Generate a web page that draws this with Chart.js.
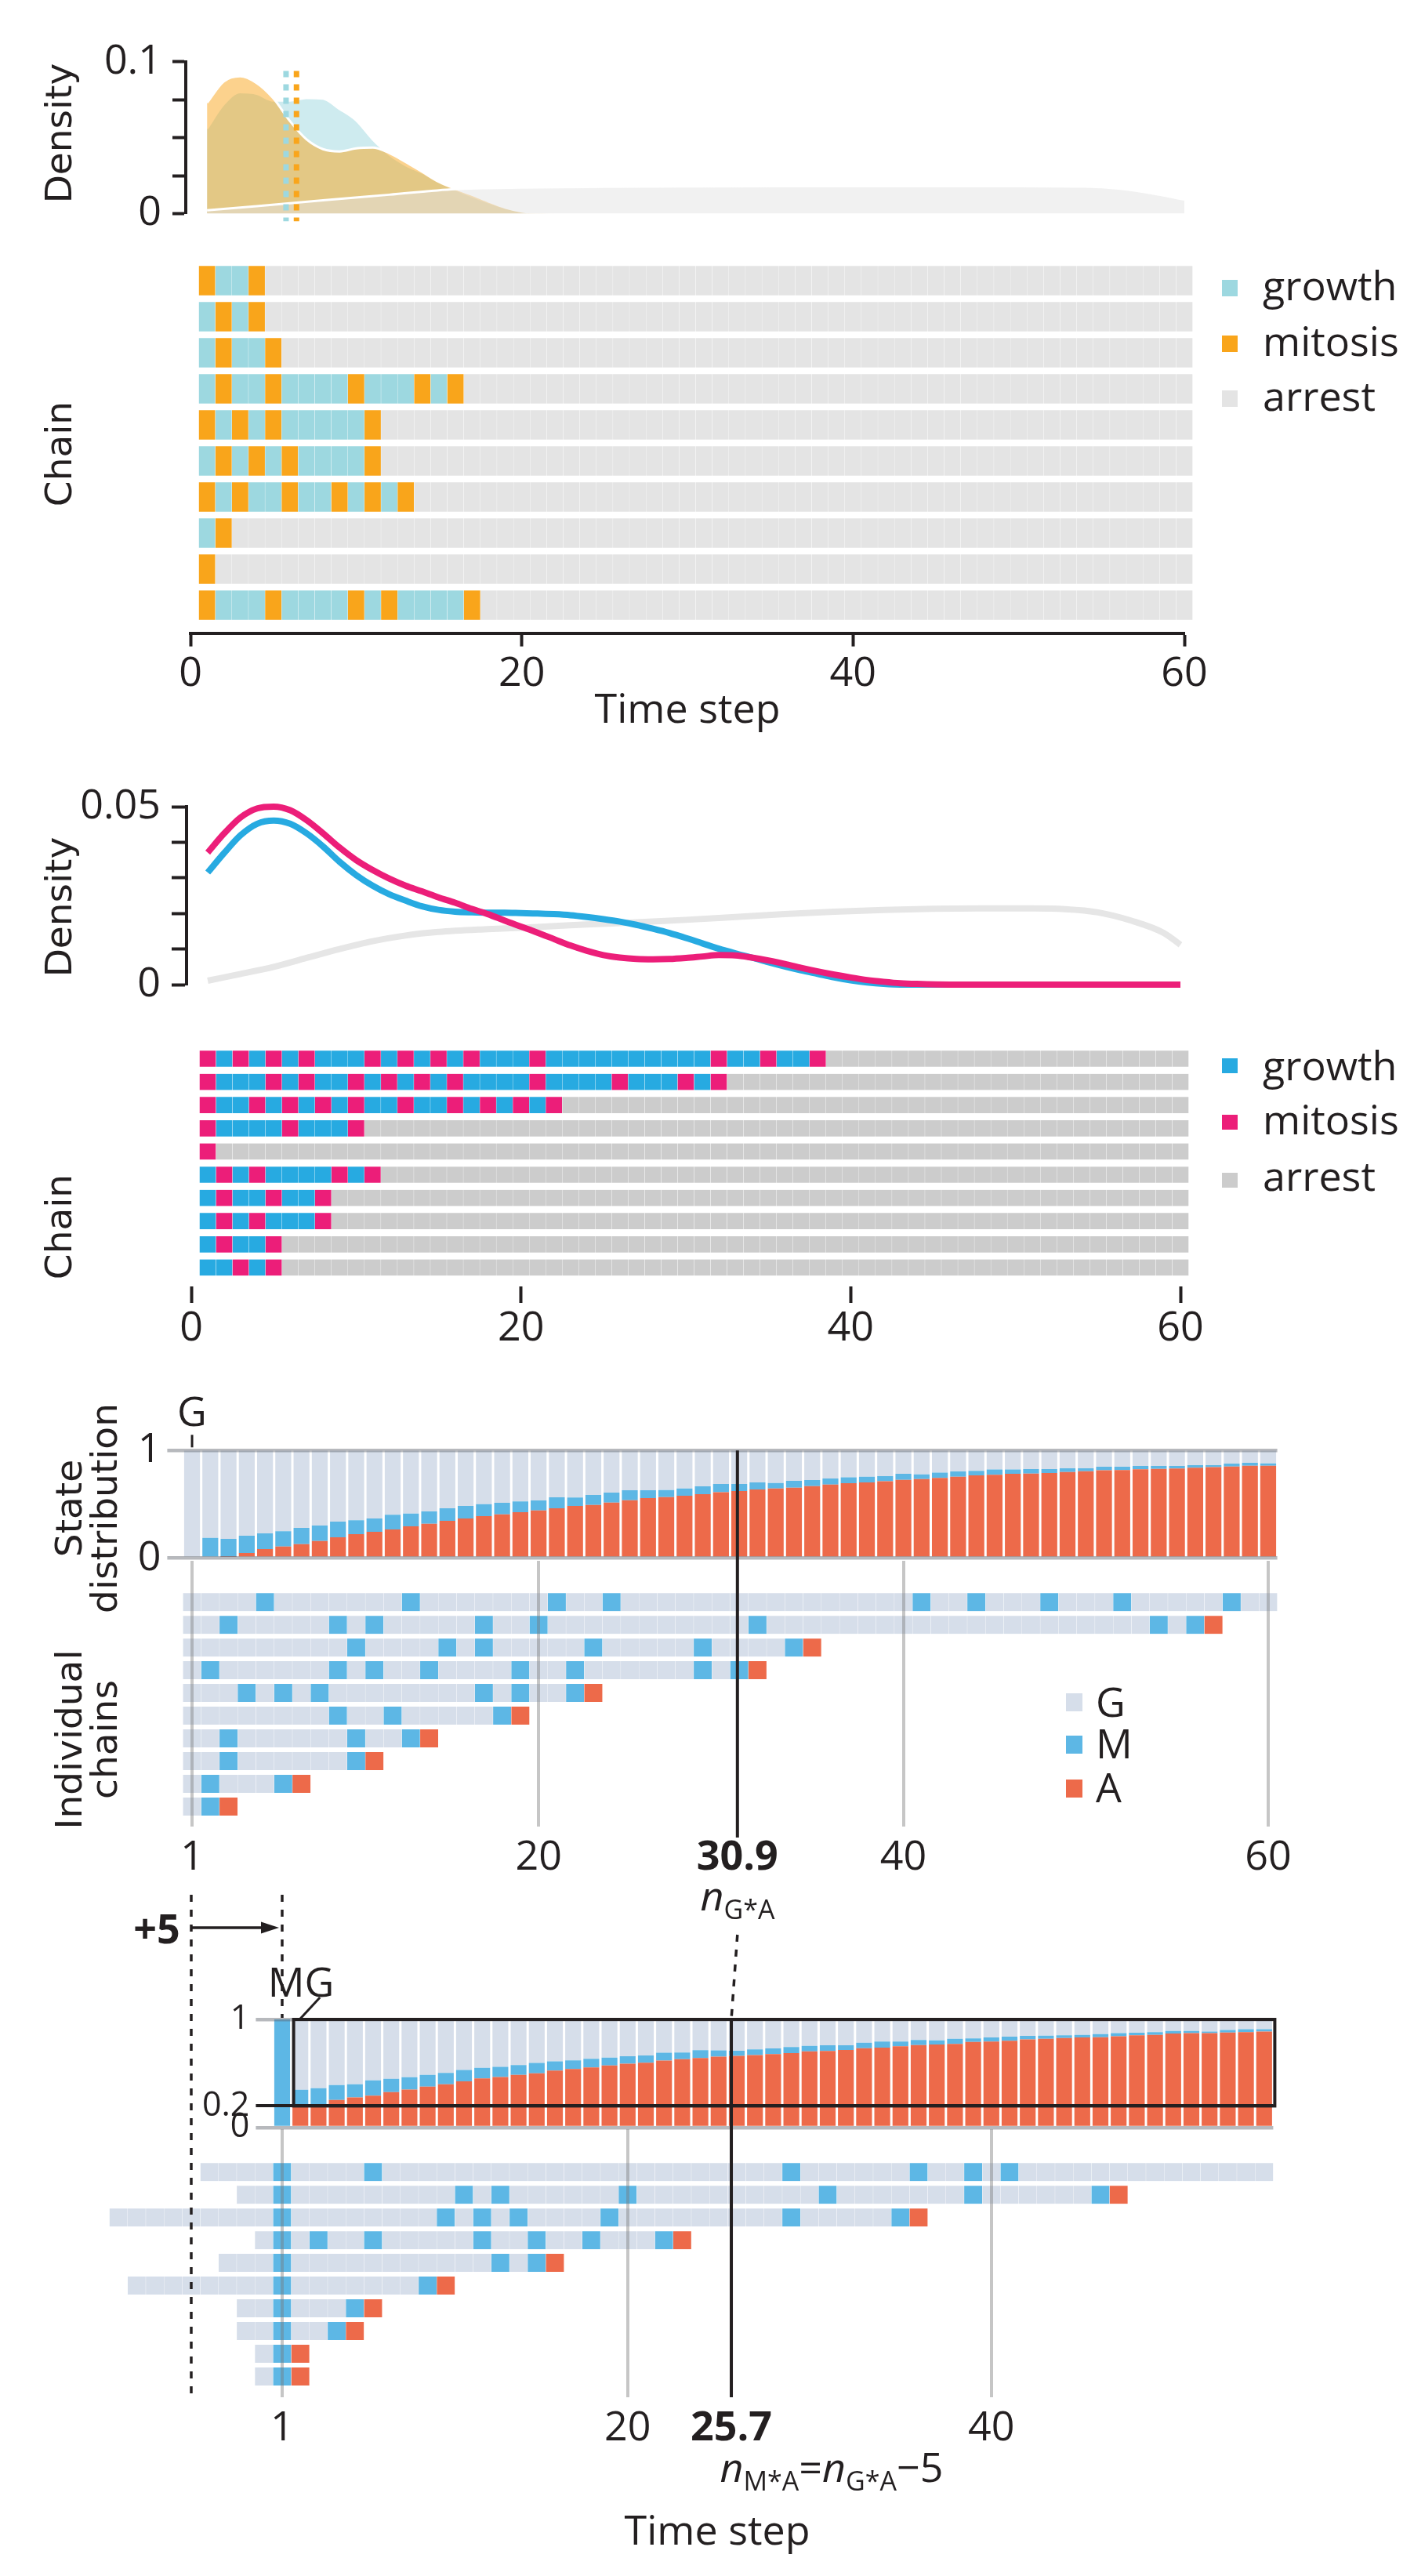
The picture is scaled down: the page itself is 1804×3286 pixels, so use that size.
<!DOCTYPE html>
<html><head><meta charset="utf-8"><title>Cell-cycle chains</title>
<script src="https://cdn.jsdelivr.net/npm/chart.js@4.4.1/dist/chart.umd.min.js"></script>
<style>
html,body{margin:0;padding:0;background:#ffffff;}
#page{position:relative;width:1804px;height:3286px;overflow:hidden;background:#ffffff;}
#page canvas{position:absolute;left:0;}
#txt{position:absolute;left:0;top:0;}
#txt text{fill:#231f20;font-family:"Open Sans",sans-serif;font-size:52px;}
#txt text.ax{font-family:"DejaVu Sans",sans-serif;font-size:47px;text-anchor:middle;}
</style></head>
<body><div id="page">
<svg id="txt" width="1804" height="3286" xmlns="http://www.w3.org/2000/svg"></svg>
</div>
<script>
// ================= DATA =================
// ---- Panel A (density areas + chains) ----
const timeTicksAB = [0, 20, 40, 60];
const densA_time = [1,2,3,4,5,6,7,8,9,10,11,12,13,14,15,16,17,18,19,20,21,22];
const densA_growth = [0.056,0.072,0.080,0.079,0.0745,0.0745,0.0762,0.0758,0.069,0.0615,0.049,0.039,0.032,0.027,0.021,0.016,0.0115,0.0075,0.004,0.0015,0.0003,0];
const densA_mitosis = [0.073,0.087,0.0905,0.086,0.076,0.061,0.049,0.0425,0.041,0.043,0.0435,0.040,0.034,0.0275,0.021,0.0165,0.0125,0.008,0.004,0.0015,0.0005,0];
const densA_arrestTime = [1,4,8,12,16,20,25,30,40,50,54,56,58,60];
const densA_arrest = [0.0022,0.005,0.0088,0.0125,0.0162,0.0172,0.0177,0.018,0.0181,0.0181,0.0178,0.0165,0.0135,0.0093];
const meansA = [5.77, 6.4];            // mean growth, mean mitosis
const densA_yLabels = {0: '0', 0.1: '0.1'};
const chainsA = ["MGGM","GMGM","GMGGM","GMGGMGGGGMGGGMGM","MGMGMGGGGGM","GMGMGMGGGGM","MGMGGMGGMGMGM","GM","M","MGGGMGGGGMGMGGGGM"];

// ---- Panel B (density lines + chains) ----
const densB_time = [1,2,3,4,5,6,7,8,9,10,11,12,13,14,15,16,17,18,19,20,21,22,23,24,25,26,27,28,29,30,31,32,33,34,35,36,37,38,39,40,41,42,43,44,46,50,55,60];
const densB_mitosis = [0.0371,0.0425,0.0470,0.0495,0.0500,0.0490,0.0462,0.0425,0.0385,0.0350,0.0322,0.0298,0.0278,0.0262,0.0245,0.0230,0.0213,0.0198,0.0180,0.0163,0.0146,0.0128,0.0110,0.0095,0.0083,0.0076,0.0072,0.0071,0.0072,0.0075,0.0079,0.0083,0.0082,0.0076,0.0068,0.0058,0.0047,0.0037,0.0028,0.0020,0.0013,0.0008,0.0004,0.0002,0,0,0,0];
const densB_growth = [0.0315,0.0370,0.0420,0.0452,0.0461,0.0452,0.0425,0.0388,0.0345,0.0308,0.0278,0.0254,0.0236,0.0220,0.0210,0.0205,0.0203,0.0202,0.0202,0.0201,0.0200,0.0198,0.0195,0.0190,0.0184,0.0177,0.0168,0.0157,0.0145,0.0131,0.0116,0.0101,0.0088,0.0076,0.0063,0.0051,0.0040,0.0030,0.0020,0.0012,0.0006,0.0002,0,0,0,0,0,0];
const densB_arrestTime = [1,3,5,7,9,11,13,15,18,21,24,27,30,33,36,39,42,45,48,51,53,55,57,59,60];
const densB_arrest = [0.0011,0.003,0.005,0.0075,0.010,0.0122,0.0138,0.0148,0.0156,0.0162,0.0169,0.0175,0.0182,0.0190,0.0198,0.0205,0.0210,0.0213,0.0214,0.0214,0.0212,0.0203,0.0180,0.0145,0.0112];
const densB_yLabels = {0: '0', 0.05: '0.05'};
const chainsB = ["MGMGMGMGGGMGMGMGMGGGMGGGGGGGGGGMGGMGGM","MGGGMGMGGMGMGMGMGGGGMGGGGMGGGMGM","MGGMGMGMGMGGMGGMGMGMGM","MGGGGMGGGM","M","GMGMGGGGMGM","GMGGMGGM","GMGMGGGM","GMGGM","GGMGM"];

// ---- Panel C (state distribution, anchored at G) ----
const distC_A = [0,0,.012,.049,.085,.109,.131,.160,.194,.223,.245,.267,.296,.320,.347,.369,.391,.408,.427,.444,.464,.485,.495,.517,.539,.558,.568,.580,.595,.612,.624,.638,.648,.655,.670,.684,.697,.704,.714,.728,.735,.745,.757,.769,.774,.784,.786,.791,.801,.808,.816,.818,.825,.830,.833,.840,.845,.852,.859,.859];
const distC_M = [0,.189,.168,.160,.145,.141,.151,.143,.146,.129,.124,.136,.119,.114,.117,.116,.111,.107,.100,.092,.102,.079,.092,.092,.092,.073,.065,.068,.072,.077,.065,.066,.051,.063,.056,.056,.055,.053,.048,.056,.044,.049,.049,.042,.049,.039,.042,.037,.034,.027,.034,.032,.032,.027,.024,.024,.019,.027,.027,.022];
const distC_G = [1,.811,.820,.791,.770,.750,.718,.697,.660,.648,.631,.597,.585,.566,.536,.515,.498,.485,.473,.464,.434,.436,.413,.391,.369,.369,.367,.352,.333,.311,.311,.296,.301,.282,.274,.260,.248,.243,.238,.216,.221,.206,.194,.189,.177,.177,.172,.172,.165,.165,.150,.150,.143,.143,.143,.136,.136,.121,.114,.119];
const chainsC_start = [1,1,1,1,1,1,1,1,1,1];
const chainsC_mitosis = [[5,13,21,24,41,44,48,52,58],[3,9,11,17,20,32,54,56],[10,15,17,23,29,34],[2,9,11,14,19,22,29,31],[4,6,8,17,19,22],[9,12,18],[3,10,13],[3,10],[2,6],[2]];
const chainsC_arrest = [null,57,35,32,23,19,14,11,7,3];
const nGA = 30.9;
const ticksC = [1,20,30.9,40,60];

// ---- Panel D (state distribution, anchored at M) ----
const distD_A = [0,.200,.200,.255,.279,.296,.328,.352,.379,.400,.427,.454,.468,.488,.502,.527,.541,.556,.575,.590,.600,.619,.633,.643,.655,.663,.670,.680,.689,.704,.709,.718,.733,.740,.752,.762,.769,.774,.791,.796,.803,.816,.820,.828,.833,.835,.845,.854,.857,.869,.874,.874,.879,.883,.888];
const distD_M = [1,.150,.164,.138,.121,.141,.123,.114,.109,.105,.105,.099,.093,.090,.095,.085,.080,.080,.071,.070,.067,.073,.061,.073,.059,.048,.053,.051,.056,.051,.051,.042,.051,.056,.044,.048,.037,.046,.034,.037,.037,.031,.030,.026,.024,.029,.029,.022,.026,.024,.019,.014,.024,.027,.022];
const distD_G = [0,.650,.636,.607,.600,.563,.549,.534,.512,.495,.468,.447,.439,.422,.403,.388,.379,.364,.354,.340,.333,.308,.306,.284,.286,.289,.277,.269,.255,.245,.240,.240,.216,.204,.204,.190,.194,.180,.175,.167,.160,.153,.150,.146,.143,.136,.126,.124,.117,.107,.107,.112,.097,.090,.090];
const chainsD_start = [-3,-1,-8,0,-2,-7,-1,-1,0,0];
const chainsD_mitosis = [[1,6,29,36,39,41],[1,11,13,20,31,39,46],[1,10,12,14,19,29,35],[1,3,6,12,15,18,22],[1,13,15],[1,9],[1,5],[1,4],[1],[1]];
const chainsD_arrest = [null,47,36,23,16,10,6,5,2,2];
const nMA = 25.7;
const shiftD = 5;
const ticksD = [1,20,25.7,40];
const yTicksD = [0,0.2,1];

// ================= STYLE =================
const INK = '#231f20';
const FONT = '"Open Sans", sans-serif';
const colA = {G:'#9dd8e0', M:'#f9a51b', R:'#e4e4e4'};
const colB = {G:'#27aae1', M:'#ec1e79', R:'#cccccc'};
const colCD = {G:'#d6deea', M:'#5db7e5', A:'#ed6a4a'};
const GRID_BAR = 'rgba(95,99,108,0.45)';
const GRID_CH = 'rgba(120,120,120,0.42)';
const tickFont = {family: FONT, size: 52};
const YW = 200; // forced width of the left value axes

// ================= HELPERS =================
const page = document.getElementById('page');
function makeCanvas(top, height) {
  const c = document.createElement('canvas');
  c.width = 1804; c.height = height;
  c.style.top = top + 'px'; c.style.width = '1804px'; c.style.height = height + 'px';
  page.insertBefore(c, document.getElementById('txt'));
  return c;
}
function baseOptions(padding, scales, extra) {
  return Object.assign({
    responsive: false, animation: false, devicePixelRatio: 1, events: [],
    layout: {padding},
    plugins: {legend: {display: false}, tooltip: {enabled: false}},
    scales
  }, extra || {});
}
function cellsFromStates(chains, lastStep) {
  const cells = [];
  chains.forEach((seq, r) => {
    for (let t = 1; t <= lastStep; t++) {
      cells.push({x: [t - 0.5, t + 0.5], y: r + 1, s: t <= seq.length ? seq[t - 1] : 'R'});
    }
  });
  return cells;
}
function cellsFromEvents(starts, mitosis, arrest, lastStep) {
  const cells = [];
  mitosis.forEach((mList, r) => {
    const end = arrest[r] === null ? lastStep : arrest[r];
    for (let t = starts[r]; t <= end; t++) {
      const s = t === arrest[r] ? 'A' : (mList.includes(t) ? 'M' : 'G');
      cells.push({x: [t - 0.5, t + 0.5], y: r + 1, s});
    }
  });
  return cells;
}
function chainDataset(cells, colors, thickness) {
  return {
    data: cells,
    backgroundColor: c => (c.raw ? colors[c.raw.s] : 'transparent'),
    borderColor: 'rgba(255,255,255,0.16)',
    borderWidth: {left: 0.5, right: 0.5, top: 0, bottom: 0},
    borderSkipped: false,
    barThickness: thickness,
    clip: false
  };
}
function rowAxis(min, max) {
  return {type: 'linear', display: false, reverse: true, offset: false, min, max, grid: {offset: false}};
}
function pts(t, v) { return t.map((x, i) => ({x, y: v[i]})); }
function seg(ctx, x1, y1, x2, y2) { ctx.beginPath(); ctx.moveTo(x1, y1); ctx.lineTo(x2, y2); ctx.stroke(); }

// ================= PANEL A =================
const lastAB = timeTicksAB[timeTicksAB.length - 1];
const cvA1 = makeCanvas(0, 950);
const cvA2 = makeCanvas(0, 950);
const meanSpanA = [-0.005, 0.094];
const areaDS = (t, v, fillCol, order) => ({data: pts(t, v), fill: 'origin', backgroundColor: fillCol,
  borderColor: '#ffffff', borderWidth: 3, pointRadius: 0, cubicInterpolationMode: 'monotone', order});
const meanDS = (m, col) => ({data: [{x: m, y: meanSpanA[1]}, {x: m, y: meanSpanA[0]}], borderColor: col,
  borderWidth: 7, borderDash: [8, 9], borderCapStyle: 'butt', pointRadius: 0, fill: false, clip: false, order: 0});

new Chart(cvA1, {
  type: 'line',
  data: {datasets: [
    meanDS(meansA[0], colA.G), meanDS(meansA[1], colA.M),
    areaDS(densA_arrestTime, densA_arrest, 'rgba(228,228,228,0.5)', 1),
    areaDS(densA_time, densA_mitosis, 'rgba(249,165,27,0.5)', 2),
    areaDS(densA_time, densA_growth, 'rgba(157,216,224,0.5)', 3)
  ]},
  options: baseOptions({left: 237 - YW, right: 293, top: 78.8, bottom: 950 - 272.6}, {
    x: {type: 'linear', display: false, min: -0.284, max: lastAB},
    y: {type: 'linear', min: 0, max: 0.1, afterFit: s => { s.width = YW; },
      ticks: {stepSize: 0.025, autoSkip: false, font: tickFont, color: INK, padding: 14,
        callback: v => { for (const k in densA_yLabels) { if (Math.abs(v - k) < 1e-9) return densA_yLabels[k]; } return ''; }},
      grid: {drawOnChartArea: false, tickLength: 17, tickWidth: 4, tickColor: INK},
      border: {display: true, width: 4, color: INK}}
  })
});

new Chart(cvA2, {
  type: 'bar',
  data: {datasets: [chainDataset(cellsFromStates(chainsA, lastAB), colA, 37.5)]},
  options: baseOptions({left: 243, right: 293, top: 335, bottom: 950 - 807.6 - 100}, {
    x: {type: 'linear', position: 'bottom', min: timeTicksAB[0], max: lastAB, afterFit: s => { s.height = 100; },
      ticks: {stepSize: 20, font: tickFont, color: INK, padding: 4},
      grid: {drawOnChartArea: false, tickLength: 17, tickWidth: 4, tickColor: INK},
      border: {display: true, width: 4, color: INK}},
    y: rowAxis(0.5, 10.774)
  }, {indexAxis: 'y'})
});

// ================= PANEL B =================
const cvB1 = makeCanvas(950, 800);
const cvB2 = makeCanvas(950, 800);
const lineDS = (t, v, col, order) => ({data: pts(t, v), borderColor: col, borderWidth: 8, pointRadius: 0,
  fill: false, cubicInterpolationMode: 'monotone', clip: false, order});
new Chart(cvB1, {
  type: 'line',
  data: {datasets: [
    lineDS(densB_time, densB_mitosis, colB.M, 0),
    lineDS(densB_time, densB_growth, colB.G, 1),
    lineDS(densB_arrestTime, densB_arrest, '#e6e6e6', 2)
  ]},
  options: baseOptions({left: 238 - YW, right: 298, top: 79, bottom: 800 - 306}, {
    x: {type: 'linear', display: false, min: -0.285, max: lastAB},
    y: {type: 'linear', min: 0, max: 0.05, afterFit: s => { s.width = YW; },
      ticks: {stepSize: 0.01, autoSkip: false, font: tickFont, color: INK, padding: 14,
        callback: v => { for (const k in densB_yLabels) { if (Math.abs(v - k) < 1e-9) return densB_yLabels[k]; } return ''; }},
      grid: {drawOnChartArea: false, tickLength: 19, tickWidth: 4, tickColor: INK},
      border: {display: true, width: 4, color: INK}}
  })
});
new Chart(cvB2, {
  type: 'bar',
  data: {datasets: [chainDataset(cellsFromStates(chainsB, lastAB), colB, 20.7)]},
  options: baseOptions({left: 244, right: 298, top: 385.7, bottom: 800 - 691 - 90}, {
    x: {type: 'linear', position: 'bottom', min: timeTicksAB[0], max: lastAB, afterFit: s => { s.height = 90; },
      ticks: {stepSize: 20, font: tickFont, color: INK, padding: 2},
      grid: {drawOnChartArea: false, tickLength: 21, tickWidth: 4, tickColor: INK},
      border: {display: false}},
    y: rowAxis(0.5, 10.814)
  }, {indexAxis: 'y'})
});

// ================= PANEL C =================
const cvC1 = makeCanvas(1750, 650);
const cvC2 = makeCanvas(1750, 650);
const stepLabelsC = distC_A.map((_, i) => String(i + 1));
const stackDS = (v, col) => ({data: v, backgroundColor: col, borderWidth: 0, barPercentage: 0.87, categoryPercentage: 1});
const chartCB = new Chart(cvC1, {
  type: 'bar',
  data: {labels: stepLabelsC, datasets: [stackDS(distC_A, colCD.A), stackDS(distC_M, colCD.M), stackDS(distC_G, colCD.G)]},
  options: baseOptions({left: 233.4 - YW, right: 174.4, top: 100.3, bottom: 650 - 237.7}, {
    x: {type: 'category', display: false, stacked: true},
    y: {type: 'linear', stacked: true, min: 0, max: 1, afterFit: s => { s.width = YW; },
      ticks: {stepSize: 1, autoSkip: false, font: tickFont, color: INK, padding: 8},
      grid: {color: GRID_BAR, lineWidth: 4.5, tickLength: 20, z: 1},
      border: {display: false}}
  })
});
const chartCC = new Chart(cvC2, {
  type: 'bar',
  data: {datasets: [chainDataset(cellsFromEvents(chainsC_start, chainsC_mitosis, chainsC_arrest, distC_A.length), colCD, 23)]},
  options: baseOptions({left: 233.4, right: 174.4, top: 241, bottom: 0}, {
    x: {type: 'linear', position: 'bottom', min: 0.5, max: distC_A.length + 0.5,
      afterFit: s => { s.height = 70; },
      afterBuildTicks: s => { s.ticks = ticksC.map(v => ({value: v})); },
      ticks: {autoSkip: false, color: INK, padding: 9, callback: v => String(v),
        font: c => ({family: FONT, size: 52, weight: (c.tick && c.tick.value === nGA) ? 'bold' : 'normal'})},
      grid: {drawTicks: false, lineWidth: 4, z: 1,
        color: c => (c.tick && c.tick.value === nGA) ? 'rgba(0,0,0,0)' : GRID_CH},
      border: {display: false}},
    y: rowAxis(-0.818, 10.88)
  }, {indexAxis: 'y'}),
  plugins: [{id: 'annC', afterDraw(chart) {
    const ctx = chart.ctx, xs = chart.scales.x;
    const top = chartCB.scales.y.getPixelForValue(1);
    ctx.save();
    ctx.strokeStyle = INK; ctx.lineWidth = 4;
    const xg = xs.getPixelForValue(nGA);
    seg(ctx, xg, top, xg, chart.chartArea.bottom + 14);
    const x1 = xs.getPixelForValue(1);
    ctx.lineWidth = 3;
    seg(ctx, x1, top - 20, x1, top - 4);
    ctx.restore();
  }}]
});

// ================= PANEL D =================
const cvD1 = makeCanvas(2400, 886);
const cvD2 = makeCanvas(2400, 886);
const stepLabelsD = distD_A.map((_, i) => String(i + 1));
const chartDB = new Chart(cvD1, {
  type: 'bar',
  data: {labels: stepLabelsD, datasets: [stackDS(distD_A, colCD.A), stackDS(distD_M, colCD.M), stackDS(distD_G, colCD.G)]},
  options: baseOptions({left: 348.4 - YW, right: 179.6, top: 176, bottom: 886 - 314}, {
    x: {type: 'category', display: false, stacked: true},
    y: {type: 'linear', stacked: true, min: 0, max: 1, afterFit: s => { s.width = YW; },
      afterBuildTicks: s => { s.ticks = yTicksD.map(v => ({value: v})); },
      ticks: {autoSkip: false, font: {family: FONT, size: 43}, color: INK, padding: 8, callback: v => String(v)},
      grid: {tickLength: 22, z: 1,
        color: c => (c.tick && c.tick.value === 0.2) ? INK : GRID_BAR,
        lineWidth: c => (c.tick && c.tick.value === 0.2) ? 4 : 4.5},
      border: {display: false}}
  })
});
new Chart(cvD2, {
  type: 'bar',
  data: {datasets: [chainDataset(cellsFromEvents(chainsD_start, chainsD_mitosis, chainsD_arrest, distD_A.length), colCD, 23)]},
  options: baseOptions({left: 130.3, right: 179.6, top: 316, bottom: 886 - 658 - 80}, {
    x: {type: 'linear', position: 'bottom', min: -8.9, max: distD_A.length + 0.5,
      afterFit: s => { s.height = 80; },
      afterBuildTicks: s => { s.ticks = ticksD.map(v => ({value: v})); },
      ticks: {autoSkip: false, color: INK, padding: 9, callback: v => String(v),
        font: c => ({family: FONT, size: 52, weight: (c.tick && c.tick.value === nMA) ? 'bold' : 'normal'})},
      grid: {drawTicks: false, lineWidth: 4, z: 1,
        color: c => (c.tick && c.tick.value === nMA) ? 'rgba(0,0,0,0)' : GRID_CH},
      border: {display: false}},
    y: rowAxis(-0.887, 10.914)
  }, {indexAxis: 'y'}),
  plugins: [{id: 'annD', afterDraw(chart) {
    const ctx = chart.ctx, xs = chart.scales.x, area = chart.chartArea;
    const yb = chartDB.scales.y;
    const top1 = yb.getPixelForValue(1), y02 = yb.getPixelForValue(0.2);
    ctx.save();
    ctx.strokeStyle = INK; ctx.fillStyle = INK; ctx.lineWidth = 4;
    // box around the re-normalised part (0.2 .. 1), bars 2 .. last
    const bl = xs.getPixelForValue(1.5) + 3, br = xs.getPixelForValue(distD_A.length + 0.5) + 2;
    ctx.strokeRect(bl, top1, br - bl, y02 - top1);
    // n_M*A line
    const xm = xs.getPixelForValue(nMA);
    seg(ctx, xm, top1, xm, area.bottom);
    // dashed connectors
    ctx.lineWidth = 3.5; ctx.setLineDash([9, 10]);
    const xg = chartCC.scales.x.getPixelForValue(nGA);
    seg(ctx, xg, 68, xm, top1);
    const xs0 = xs.getPixelForValue(1 - shiftD), xs1 = xs.getPixelForValue(1);
    seg(ctx, xs0, 17, xs0, area.bottom + 3);
    seg(ctx, xs1, 17, xs1, top1 - 2);
    ctx.setLineDash([]);
    // +5 arrow
    ctx.lineWidth = 3.5;
    seg(ctx, xs0, 59, xs1 - 20, 59);
    ctx.beginPath(); ctx.moveTo(xs1 - 4, 59); ctx.lineTo(xs1 - 27, 51.5); ctx.lineTo(xs1 - 27, 66.5); ctx.closePath(); ctx.fill();
    // MG connector
    ctx.lineWidth = 3;
    const xc = xs.getPixelForValue(2);
    seg(ctx, xc, top1 - 1, xc + 25, top1 - 28);
    ctx.restore();
  }}]
});

// ================= TEXT (SVG) =================
const svg = document.getElementById('txt');
const NS = 'http://www.w3.org/2000/svg';
function T(str, attrs, cls) {
  const t = document.createElementNS(NS, 'text');
  for (const k in attrs) t.setAttribute(k, attrs[k]);
  if (cls) t.setAttribute('class', cls);
  t.textContent = str;
  svg.appendChild(t); return t;
}
function rotLabel(str, x, y) { T(str, {transform: `translate(${x},${y}) rotate(-90)`}, 'ax'); }
function R(x, y, w, h, fill) {
  const r = document.createElementNS(NS, 'rect');
  r.setAttribute('x', x); r.setAttribute('y', y); r.setAttribute('width', w); r.setAttribute('height', h); r.setAttribute('fill', fill);
  svg.appendChild(r);
}
function rich(parts, x, y) {
  const t = document.createElementNS(NS, 'text');
  t.setAttribute('x', x); t.setAttribute('y', y); t.setAttribute('text-anchor', 'middle');
  parts.forEach(p => {
    const s = document.createElementNS(NS, 'tspan');
    s.textContent = p[0];
    if (p[1]) s.setAttribute('font-style', 'italic');
    if (p[2]) s.setAttribute('font-size', p[2]);
    if (p[3]) s.setAttribute('dy', p[3]);
    t.appendChild(s);
  });
  svg.appendChild(t);
}
// Panel A
rotLabel('Density', 91, 170);
rotLabel('Chain', 91, 579);
T('Time step', {x: 877, y: 922, 'text-anchor': 'middle'});
[['growth', colA.G, 357, 383], ['mitosis', colA.M, 428, 454], ['arrest', colA.R, 498, 524]].forEach(l => {
  R(1559, l[2], 20, 21, l[1]); T(l[0], {x: 1611, y: l[3]});
});
// Panel B
rotLabel('Density', 91, 1157);
rotLabel('Chain', 91, 1565);
[['growth', colB.G, 1350, 1378], ['mitosis', colB.M, 1422, 1447], ['arrest', colB.R, 1496, 1519]].forEach(l => {
  R(1559, l[2], 20, 19, l[1]); T(l[0], {x: 1611, y: l[3]});
});
// Panel C
rotLabel('State', 104, 1924);
rotLabel('distribution', 149, 1924);
rotLabel('Individual', 104, 2219);
rotLabel('chains', 149, 2219);
T('G', {x: 245, y: 1819, 'text-anchor': 'middle'});
[['G', colCD.G, 2160, 2190], ['M', colCD.M, 2214, 2243], ['A', colCD.A, 2270, 2299]].forEach(l => {
  R(1360, l[2], 21, 23, l[1]); T(l[0], {x: 1398, y: l[3]});
});
rich([['n', true], ['G*A', false, 34, 11]], 941, 2437);
// Panel D
T('+5', {x: 200, y: 2479, 'text-anchor': 'middle', 'font-weight': 'bold', 'font-size': 50});
T('MG', {x: 384, y: 2547, 'text-anchor': 'middle', 'font-size': 54});
rich([['n', true], ['M*A', false, 34, 11], ['=', false, null, -11], ['n', true], ['G*A', false, 34, 11], ['\u22125', false, null, -11]], 1061, 3166);
T('Time step', {x: 915, y: 3246, 'text-anchor': 'middle'});
</script>
</body></html>
